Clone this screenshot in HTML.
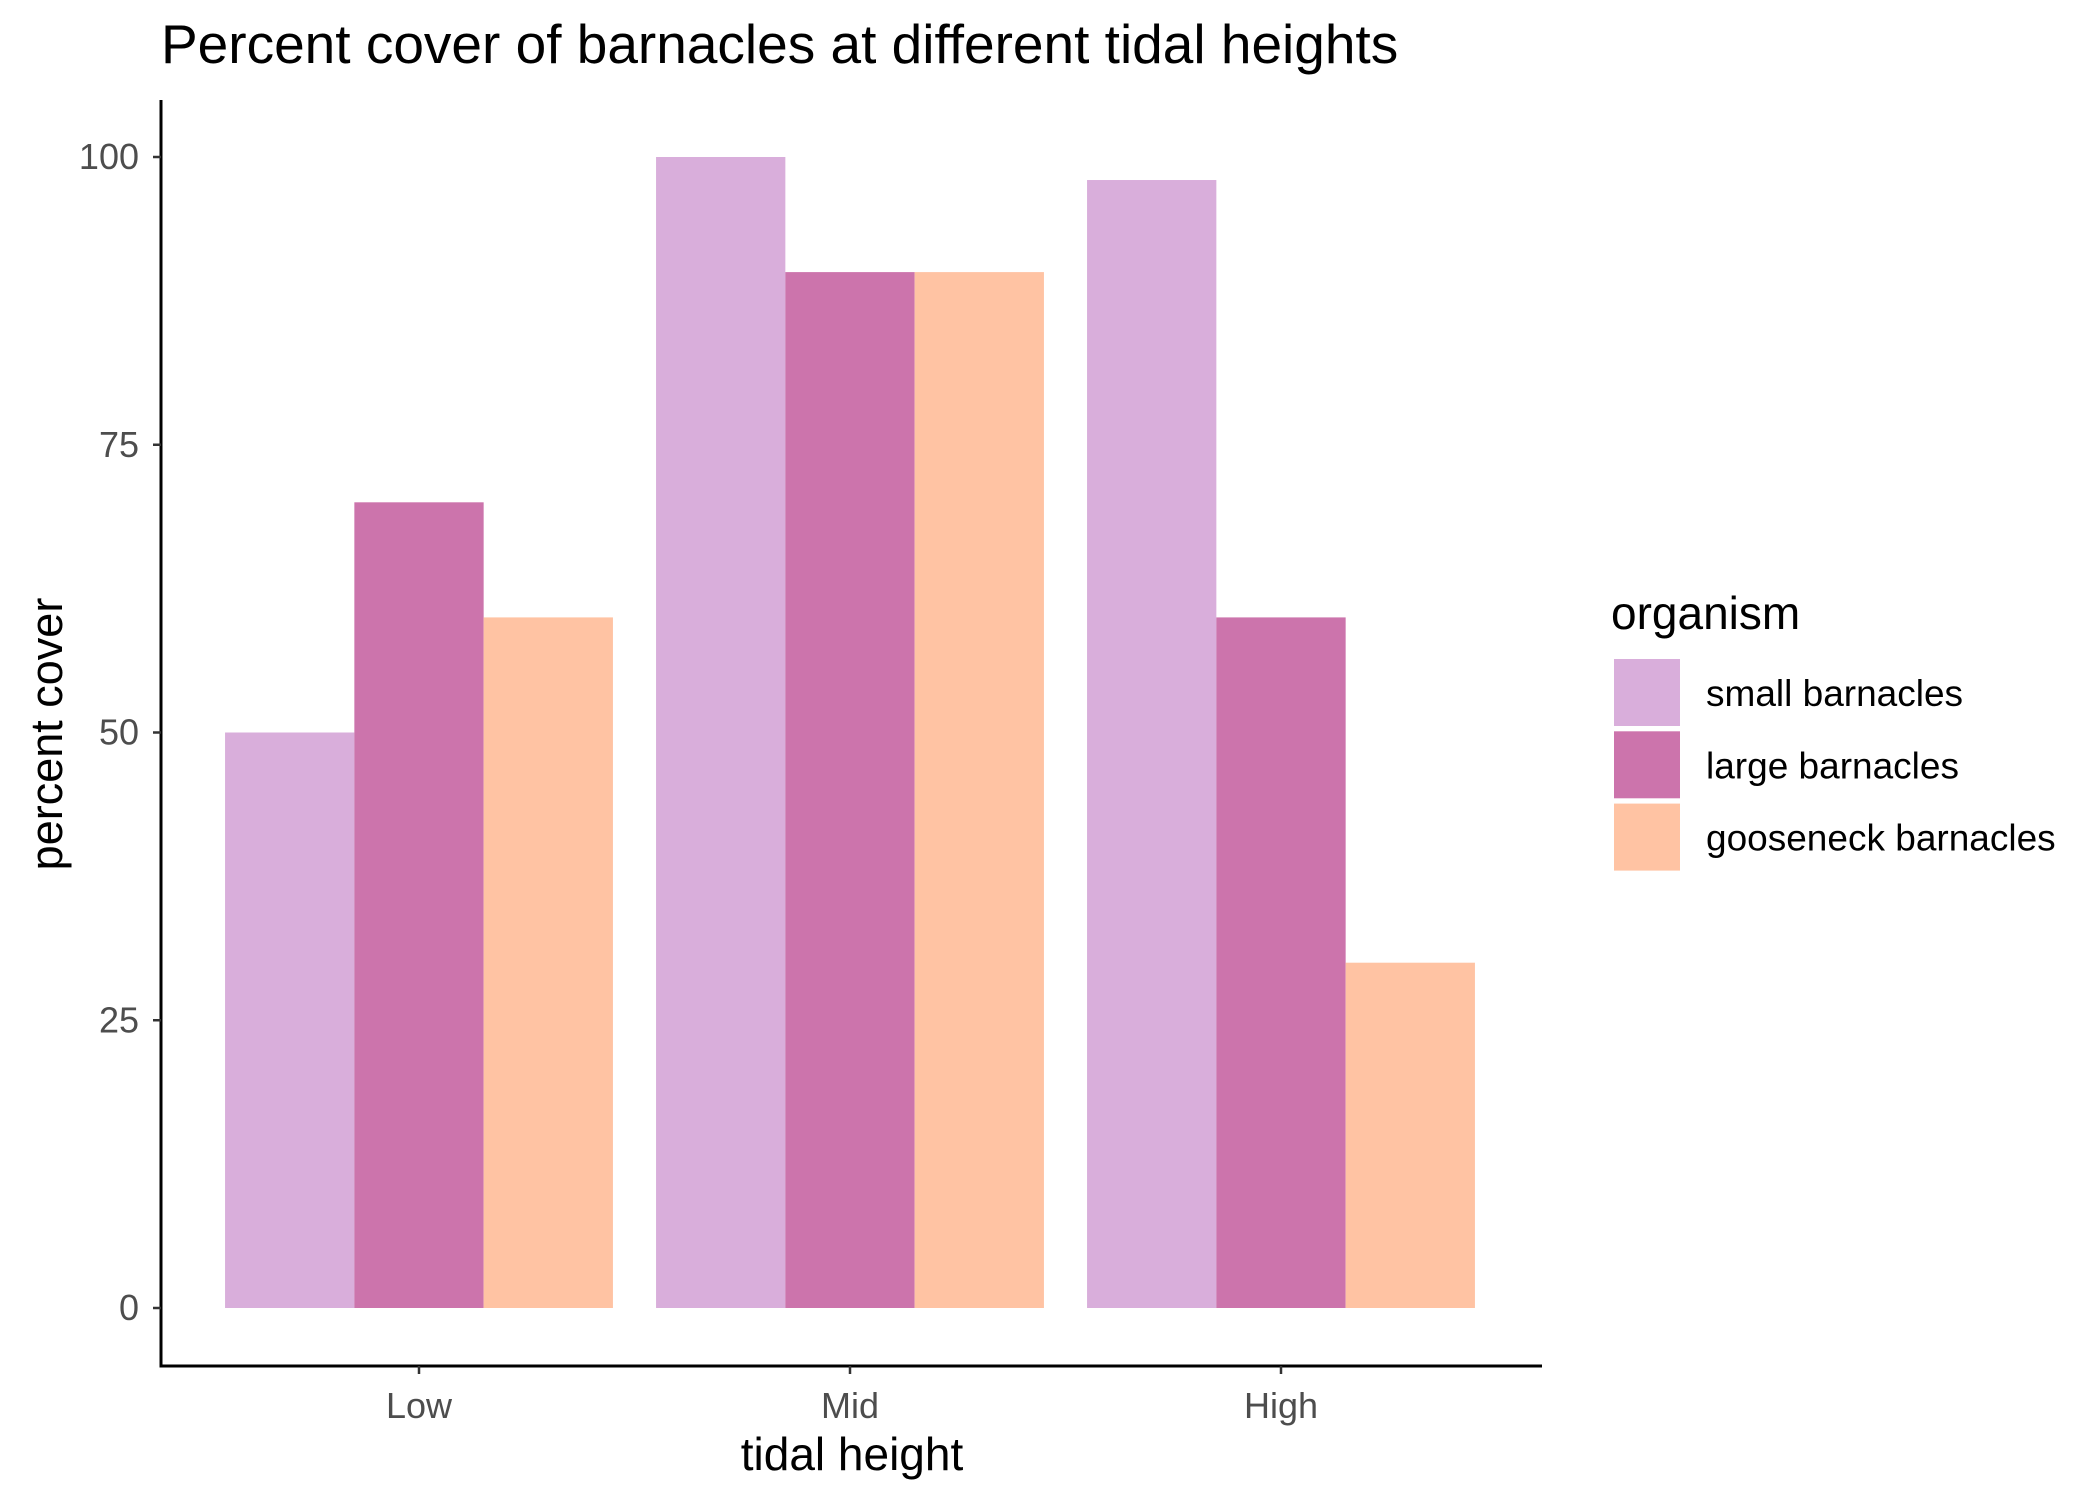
<!DOCTYPE html>
<html><head><meta charset="utf-8"><style>
html,body{margin:0;padding:0;background:#fff;}
svg{display:block;font-family:"Liberation Sans",Arial,sans-serif;}
</style></head><body>
<svg id="chart" width="2100" height="1500" viewBox="0 0 2100 1500">
<rect width="2100" height="1500" fill="#fff"/>
<text x="161" y="63" font-size="55" fill="#000">Percent cover of barnacles at different tidal heights</text>
<g id="plot"></g>
<text x="852" y="1470" font-size="46" text-anchor="middle" fill="#000">tidal height</text>
<text transform="translate(62,734) rotate(-90)" font-size="45" text-anchor="middle" fill="#000">percent cover</text>
<g id="legend">
<text x="1611" y="629" font-size="46" fill="#000">organism</text>
</g>
</svg>
<script>
const categories=["Low","Mid","High"];
const seriesNames=["small barnacles","large barnacles","gooseneck barnacles"];
const smallVals=[50,100,98];
const largeVals=[70,90,60];
const gooseVals=[60,90,30];
const yTicks=[0,25,50,75,100];
const colors=["#D9AEDB","#CC74AC","#FFC3A3"];
const series=[smallVals,largeVals,gooseVals];
const NS="http://www.w3.org/2000/svg";
const plot=document.getElementById('plot');
const y0px=1308,y100px=157,axisX=161,axisY=1366,axisRight=1542;
function yScale(v){return y0px+(y100px-y0px)*v/100;}
const catStep=431,firstCat=419;
function xScale(i){return firstCat+i*catStep;}
const barW=catStep*0.9/3;
function mk(tag,attrs){const e=document.createElementNS(NS,tag);for(const k in attrs)e.setAttribute(k,attrs[k]);return e;}
series.forEach((vals,s)=>{
  vals.forEach((v,i)=>{
    const x=xScale(i)-1.5*barW+s*barW;
    const r=mk('rect',{x:x,y:yScale(v),width:barW,height:yScale(0)-yScale(v),fill:colors[s]});
    
    
    plot.appendChild(r);
  });
});
const ax=mk('path',{d:`M${axisX} 100 V${axisY} H${axisRight}`,stroke:'#000','stroke-width':3,fill:'none'});


plot.appendChild(ax);
yTicks.forEach(t=>{
  const y=yScale(t);
  const l=mk('line',{x1:axisX-8,x2:axisX,y1:y,y2:y,stroke:'#333','stroke-width':2.5});
  
  
  plot.appendChild(l);
  const tx=mk('text',{x:axisX-22,y:y+12,'font-size':36,'text-anchor':'end',fill:'#4d4d4d'});
  tx.textContent=t;
  
  
  plot.appendChild(tx);
});
categories.forEach((c,i)=>{
  const x=xScale(i);
  const l=mk('line',{x1:x,x2:x,y1:axisY,y2:axisY+8,stroke:'#333','stroke-width':2.5});
  
  
  plot.appendChild(l);
  const tx=mk('text',{x:x,y:1418,'font-size':36,'text-anchor':'middle',fill:'#4d4d4d'});
  tx.textContent=c;
  
  
  plot.appendChild(tx);
});
const leg=document.getElementById('legend');
seriesNames.forEach((n,s)=>{
  const y=659+s*72.3;
  const r=mk('rect',{x:1614,y:y,width:66,height:67,fill:colors[s]});
  
  
  leg.appendChild(r);
  const t=mk('text',{x:1706,y:y+47,'font-size':37,fill:'#000'});
  t.textContent=n;
  
  
  leg.appendChild(t);
});
</script>
</body></html>
